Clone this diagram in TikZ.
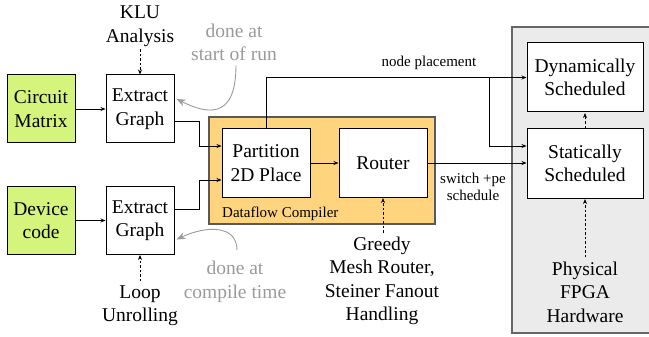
\documentclass[tikz,border=0pt]{standalone}
\usepackage{fontspec}
\setmainfont{Liberation Serif}
\usetikzlibrary{arrows.meta,calc}
\definecolor{boxgreen}{HTML}{D4F47C}
\definecolor{dforange}{HTML}{FFD47F}
\definecolor{hwgray}{HTML}{EBEBEB}
\definecolor{notegray}{HTML}{9A9A9A}
\tikzset{
  big/.style={font=\fontsize{19.5}{23.5}\selectfont},
  small/.style={font=\fontsize{15}{17}\selectfont},
  blk/.style={draw=black, line width=1pt, fill=white, align=center, big, inner sep=0pt},
  srcbox/.style={blk, fill=boxgreen, minimum width=68pt, minimum height=68pt},
  egbox/.style={blk, minimum width=68pt, minimum height=68pt},
  dfbox/.style={blk, minimum width=88pt, minimum height=68pt},
  hwbox/.style={blk, minimum width=116pt, minimum height=69pt},
  lbl/.style={align=center, big, inner sep=0pt},
  note/.style={align=center, big, inner sep=0pt, text=notegray},
  arr/.style={line width=0.8pt, -{Stealth[length=5pt,width=4pt]}},
  darr/.style={arr, dashed, dash pattern=on 2.5pt off 2pt},
  garr/.style={draw=notegray, line width=0.9pt, -{Stealth[length=9pt,width=7pt]}, color=notegray},
}
\begin{document}
\begin{tikzpicture}[x=1pt,y=-1pt]
\useasboundingbox (0,0) rectangle (649,337);
% hardware region
\fill[hwgray] (512,27) rectangle (649,333);
\draw[draw=black!60, line width=1.4pt] (649,27) -- (512,27) -- (512,333) -- (649,333);
% dataflow compiler
\node[draw=black!65, line width=1.2pt, fill=dforange, minimum width=226pt, minimum height=107pt, inner sep=0pt] (dfc) at (322,170.5) {};
\node[small, anchor=west, inner sep=0pt] (dfclbl) at (222,214) {Dataflow Compiler};
% boxes
\node[srcbox] (cm) at (41,109) {Circuit\\Matrix};
\node[egbox] (eg1) at (140,109) {Extract\\Graph};
\node[srcbox] (dc) at (41,220.5) {Device\\code};
\node[egbox] (eg2) at (140,220.5) {Extract\\Graph};
\node[dfbox] (part) at (266,163) {Partition\\2D Place};
\node[dfbox] (rout) at (383,163) {Router};
\node[hwbox] (dyn) at (585,77.5) {Dynamically\\Scheduled};
\node[hwbox] (stat) at (585,163.5) {Statically\\Scheduled};
% annotations
\node[lbl] (klu) at (140,26) {KLU\\Analysis};
\node[lbl] (loop) at (140,305.5) {Loop\\Unrolling};
\node[lbl] (greedy) at (382,281) {Greedy\\Mesh Router,\\Steiner Fanout\\Handling};
\node[lbl] (phys) at (585,292) {Physical\\FPGA\\Hardware};
\node[note] (done1) at (234,42.5) {done at\\start of run};
\node[note] (done2) at (235,282) {done at\\compile time};
\node[small, inner sep=0pt] (nplbl) at (429,63) {node placement};
\node[small, align=center, inner sep=0pt] (swlbl) at (473,187) {switch +pe\\schedule};
% connectors
\draw[arr] (cm) -- (eg1);
\draw[arr] (dc) -- (eg2);
\draw[arr] ($(eg1.east)+(0,12)$) -- ++(25,0) |- ($(part.west)+(0,-17)$);
\draw[arr] ($(eg2.east)+(0,-11.5)$) -- ++(25,0) |- ($(part.west)+(0,17)$);
\draw[arr] (part) -- (rout);
\draw[arr] (rout.east) -- (rout.east -| stat.west);
\draw[arr] (part.north) |- (dyn.west);
\coordinate (br) at ($(dyn.west)+(-37,0)$);
\draw[arr] (br) |- ($(stat.west)+(0,-17.5)$);
% dashed influences
\draw[darr] ($(klu.south)+(0,3)$) -- (eg1.north);
\draw[darr] ($(loop.north)+(0,-4)$) -- (eg2.south);
\draw[darr] ($(greedy.north)+(1,-4)$) -- ($(rout.south)+(0,0.5)$);
\draw[darr] ($(phys.north)+(0,-4)$) -- ($(stat.south)+(0,0.5)$);
\draw[darr] (stat.north) -- ($(dyn.south)+(0,0.5)$);
% gray notes arrows
\draw[garr] ($(done1.south)+(2,4)$) .. controls (236,122) and (205,113) .. ($(eg1.east)+(2,-10)$);
\draw[garr] ($(done2.north)+(2,-11)$) .. controls (237,224) and (205,226) .. ($(eg2.east)+(2,19)$);
\end{tikzpicture}
\end{document}
